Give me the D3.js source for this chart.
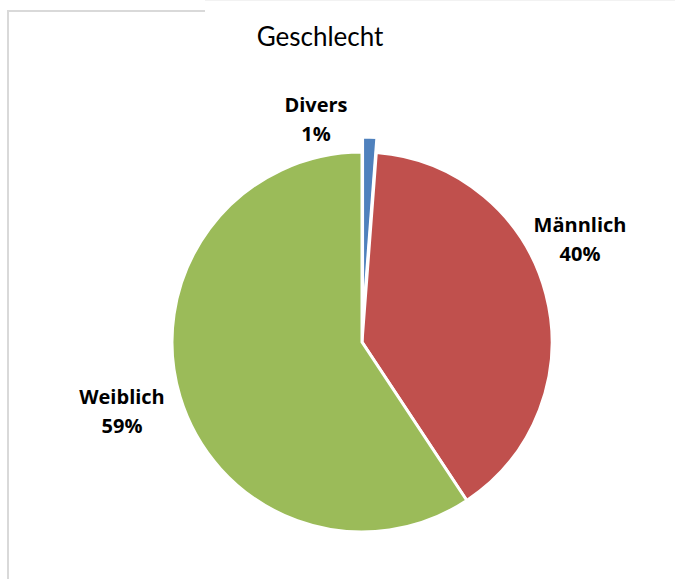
<!DOCTYPE html>
<meta charset="utf-8">
<style>
body { margin: 0; background: #fff; }
.title { font: 26px "Lato", sans-serif; fill: #000; }
.label { font: bold 20px "Open Sans", sans-serif; fill: #000; }
.frame { stroke: #d9d9d9; stroke-width: 2px; fill: none; }
</style>
<svg width="675" height="579"></svg>
<script src="https://d3js.org/d3.v7.min.js"></script>
<script>

// data
var categories = ["Divers", "Männlich", "Weiblich"];
var values = [1.2, 39.5, 59.3];
var colors = ["#4f81bd", "#c0504d", "#9bbb59"];
// label anchor points (x, y of first line baseline)
var labelPos = [[316, 112], [580, 232], [122, 404]];
var explode = [15, 0, 0];

var svg = d3.select("svg");

var cx = 362, cy = 342, radius = 190;

// frame
svg.append("path")
    .attr("class", "frame")
    .attr("d", "M8,579 V11 H205");
svg.append("line")
    .attr("x1", 205).attr("x2", 675)
    .attr("y1", 0.5).attr("y2", 0.5)
    .attr("stroke", "#f2f2f2");

svg.append("text")
    .attr("class", "title")
    .attr("x", 320)
    .attr("y", 46)
    .attr("text-anchor", "middle")
    .text("Geschlecht");

var pie = d3.pie().sort(null).value(function(d) { return d; });
var arc = d3.arc().innerRadius(0).outerRadius(radius);

var arcs = pie(values);
var g = svg.append("g").attr("transform", "translate(" + cx + "," + cy + ")");

g.selectAll("path")
    .data(arcs)
    .enter().append("path")
    .attr("d", arc)
    .attr("fill", function(d, i) { return colors[i]; })
    .attr("stroke", "#fff")
    .attr("stroke-width", 3)
    .attr("stroke-linejoin", "miter")
    .attr("transform", function(d, i) {
        var a = (d.startAngle + d.endAngle) / 2;
        return "translate(" + (Math.sin(a) * explode[i]) + "," + (-Math.cos(a) * explode[i]) + ")";
    });

var total = d3.sum(values);
var labels = svg.selectAll("text.label")
    .data(arcs)
    .enter().append("text")
    .attr("class", "label")
    .attr("text-anchor", "middle")
    .attr("x", function(d, i) { return labelPos[i][0]; })
    .attr("y", function(d, i) { return labelPos[i][1]; });

labels.append("tspan")
    .attr("x", function(d, i) { return labelPos[i][0]; })
    .text(function(d, i) { return categories[i]; });
labels.append("tspan")
    .attr("x", function(d, i) { return labelPos[i][0]; })
    .attr("dy", 29)
    .text(function(d) { return Math.round(d.value / total * 100) + "%"; });

</script>
